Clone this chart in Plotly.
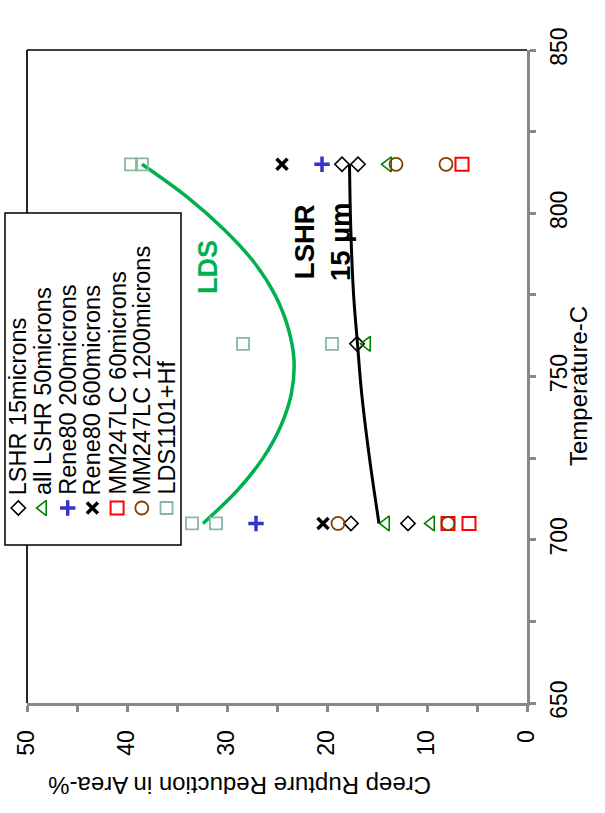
import plotly.graph_objects as go

# ---- measured creep rupture reduction in area (%) vs test temperature (C) ----
lshr15_temp = [705, 705, 760, 815, 815]
lshr15_ra = [17.6, 11.9, 17.0, 18.5, 16.9]

lshr50_temp = [705, 705, 760, 815]
lshr50_ra = [14.1, 9.6, 16.0, 13.9]

rene200_temp = [705, 815]
rene200_ra = [27.1, 20.5]

rene600_temp = [705, 815]
rene600_ra = [20.4, 24.5]

mm60_temp = [705, 705, 815]
mm60_ra = [7.9, 5.8, 6.5]

mm1200_temp = [705, 705, 815, 815]
mm1200_ra = [18.9, 7.9, 13.1, 8.1]

lds_temp = [705, 705, 760, 760, 815, 815]
lds_ra = [33.5, 31.1, 28.4, 19.5, 39.6, 38.5]

# trend curves
lds_fit_temp = [705, 715, 725, 735, 745, 755, 765, 775, 785, 795, 805, 815]
lds_fit_ra = [32.4, 29.0, 26.4, 24.6, 23.55, 23.3, 23.9, 25.2, 27.3, 30.3, 34.0, 38.5]

lshr_fit_temp = [705, 725, 745, 760, 775, 795, 815]
lshr_fit_ra = [14.8, 15.75, 16.54, 16.95, 17.34, 17.62, 17.75]

legend_names = ["LSHR 15microns", "all LSHR 50microns", "Rene80 200microns",
                "Rene80 600microns", "MM247LC 60microns", "MM247LC 1200microns",
                "LDS1101+Hf"]

temp_ticks = [650, 700, 750, 800, 850]
ra_ticks = [0, 10, 20, 30, 40, 50]

# ---- styles ----
FONT = "Arial, Liberation Sans, sans-serif"
GREEN = "#00b050"
GREY = "#888888"
styles = [
    dict(symbol="diamond-open", size=11, color="black", line=dict(width=1.6, color="black")),
    dict(symbol="triangle-left-open", size=13, color="#008000", line=dict(width=1.6, color="#008000")),
    dict(symbol="cross-thin-open", size=11, color="#3333cc", line=dict(width=3.5, color="#3333cc")),
    dict(symbol="x-thin-open", size=11, color="black", line=dict(width=3.5, color="black")),
    dict(symbol="square-open", size=13, color="#ff0000", line=dict(width=2, color="#ff0000")),
    dict(symbol="circle-open", size=13, color="#7f4000", line=dict(width=1.8, color="#7f4000")),
    dict(symbol="square-open", size=12, color="#86b99e", line=dict(width=1.8, color="#86b99e")),
]
series = [
    (lshr15_temp, lshr15_ra), (lshr50_temp, lshr50_ra), (rene200_temp, rene200_ra),
    (rene600_temp, rene600_ra), (mm60_temp, mm60_ra), (mm1200_temp, mm1200_ra),
    (lds_temp, lds_ra),
]

# page geometry in pixels
W, H = 605, 813
L, R, T, B = 27, 527, 50, 703

fig = go.Figure()

# trend curves
fig.add_trace(go.Scatter(x=lds_fit_ra, y=lds_fit_temp, mode="lines",
                         line=dict(color=GREEN, width=3.5, shape="spline"),
                         showlegend=False, hoverinfo="skip"))
fig.add_trace(go.Scatter(x=lshr_fit_ra, y=lshr_fit_temp, mode="lines",
                         line=dict(color="black", width=3, shape="spline"),
                         showlegend=False, hoverinfo="skip"))

order = [6, 2, 3, 0, 1, 4, 5]
for i in order:
    t, r = series[i]
    fig.add_trace(go.Scatter(x=r, y=t, mode="markers", name=legend_names[i],
                             marker=styles[i], showlegend=False, cliponaxis=False))

# rotated legend drawn on a full-page pixel overlay (x2/y2)
leg_x0, leg_x1, leg_y0, leg_y1 = 5, 181, 213, 545
col_x = [18.3, 43.0, 67.7, 92.4, 117.1, 141.8, 166.5]
sym_y = 508
for i, cx in enumerate(col_x):
    fig.add_trace(go.Scatter(x=[cx], y=[sym_y], xaxis="x2", yaxis="y2", mode="markers",
                             marker=styles[i], showlegend=False, cliponaxis=False,
                             hoverinfo="skip"))

shapes = [
    # black frame on top and left of the plotting area
    dict(type="line", xref="x2", yref="y2", x0=L, x1=R, y0=T, y1=T,
         line=dict(color="black", width=1.7), layer="below"),
    dict(type="line", xref="x2", yref="y2", x0=L, x1=L, y0=T, y1=B,
         line=dict(color="black", width=1.7), layer="below"),
    dict(type="rect", xref="x2", yref="y2", x0=leg_x0, x1=leg_x1,
         y0=leg_y0, y1=leg_y1, fillcolor="white",
         line=dict(color="black", width=1.5), layer="below"),
]

annotations = []
for i, cx in enumerate(col_x):
    annotations.append(dict(x=cx, y=497, xref="x2", yref="y2",
                            text=legend_names[i], textangle=-90, showarrow=False,
                            xanchor="center", yanchor="bottom",
                            font=dict(family=FONT, size=23.5, color="black")))

annotations += [
    dict(x=208, y=267, xref="x2", yref="y2", text="<b>LDS</b>",
         textangle=-90, showarrow=False, xanchor="center", yanchor="middle",
         font=dict(family=FONT, size=27, color=GREEN)),
    dict(x=322, y=242, xref="x2", yref="y2", text="<b>LSHR<br>15 µm</b>",
         textangle=-90, showarrow=False, align="center",
         xanchor="center", yanchor="middle",
         font=dict(family=FONT, size=27.5, color="black")),
    dict(x=578, y=386, xref="x2", yref="y2", text="Temperature-C",
         textangle=-90, showarrow=False, xanchor="center", yanchor="middle",
         font=dict(family=FONT, size=24, color="black")),
    dict(x=240, y=786, xref="x2", yref="y2",
         text="Creep Rupture Reduction in Area-%", textangle=180, showarrow=False,
         xanchor="center", yanchor="middle",
         font=dict(family=FONT, size=24, color="black")),
]

fig.update_layout(
    width=W, height=H,
    margin=dict(l=0, r=0, t=0, b=0, autoexpand=False),
    paper_bgcolor="white", plot_bgcolor="rgba(0,0,0,0)",
    font=dict(family=FONT, color="black"),
    showlegend=False,
    shapes=shapes, annotations=annotations,
    xaxis=dict(domain=[L / W, R / W], anchor="y", automargin=False,
               range=[50, 0], tickvals=ra_ticks, ticktext=[str(v) for v in ra_ticks],
               tickangle=-90, tickfont=dict(size=23), showgrid=False, zeroline=False,
               showline=True, linecolor=GREY, linewidth=3,
               ticks="outside", ticklen=6, tickwidth=2.5, tickcolor=GREY,
               minor=dict(dtick=5, ticks="outside", ticklen=6, tickwidth=2.5,
                          tickcolor=GREY),
               ticklabelstandoff=9),
    yaxis=dict(domain=[1 - B / H, 1 - T / H], anchor="x", automargin=False,
               range=[650, 850], side="right", tickvals=temp_ticks,
               ticktext=[str(v) for v in temp_ticks], tickangle=-90,
               tickfont=dict(size=23), showgrid=False, zeroline=False,
               showline=True, linecolor=GREY, linewidth=3,
               ticks="outside", ticklen=6, tickwidth=2.5, tickcolor=GREY,
               minor=dict(dtick=25, ticks="outside", ticklen=6, tickwidth=2.5,
                          tickcolor=GREY),
               ticklabelstandoff=3),
    xaxis2=dict(domain=[0, 1], range=[0, W], anchor="y2", visible=False,
                fixedrange=True, automargin=False),
    yaxis2=dict(domain=[0, 1], range=[H, 0], anchor="x2", visible=False,
                fixedrange=True, automargin=False),
)

fig.write_html("out.html")
